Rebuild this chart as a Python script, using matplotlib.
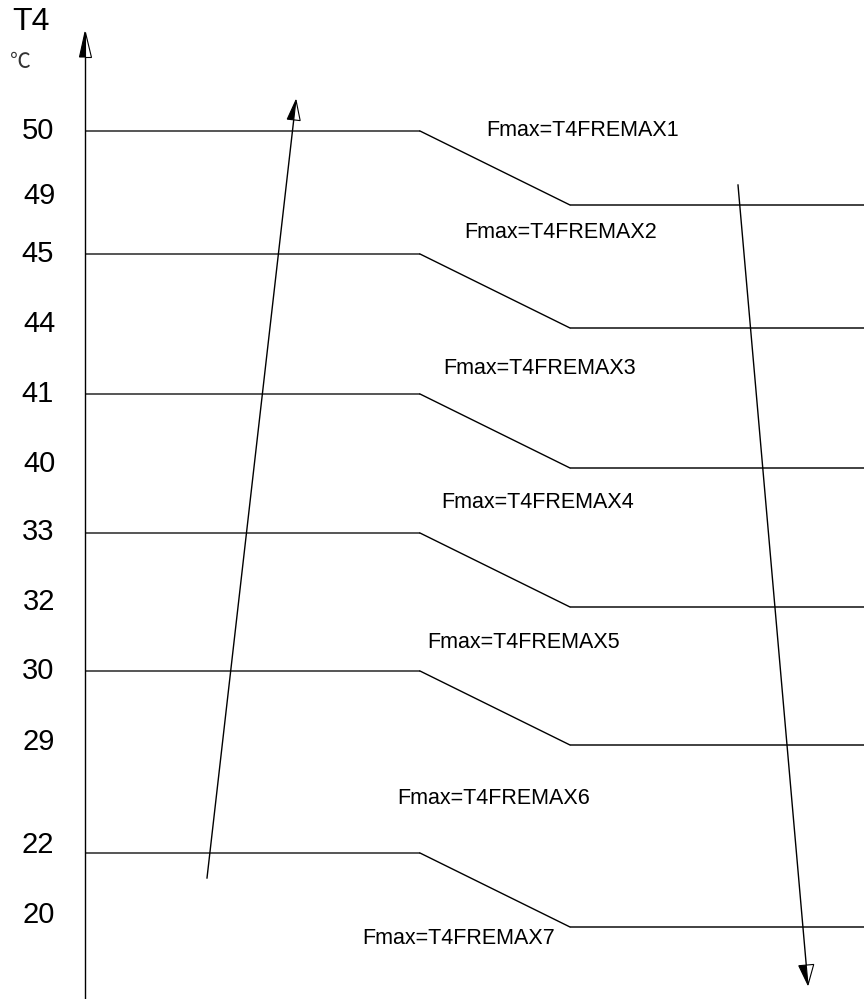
import matplotlib
matplotlib.use("Agg")
import matplotlib.pyplot as plt
from matplotlib.patches import Polygon
import numpy as np

# ---- data (schematic levels) ----
upper_temps = ["50", "45", "41", "33", "30", "22"]
lower_temps = ["49", "44", "40", "32", "29", "20"]
upper_level = [131, 254, 394, 533, 671, 853]     # schematic vertical position of upper step
lower_level = [205, 328, 468, 607, 745, 927]     # schematic vertical position of lower step
upper_label_pos = [131, 254, 394, 532, 671, 845]
lower_label_pos = [196, 324, 464, 602, 742, 915]
fmax_labels = ["Fmax=T4FREMAX1", "Fmax=T4FREMAX2", "Fmax=T4FREMAX3",
               "Fmax=T4FREMAX4", "Fmax=T4FREMAX5", "Fmax=T4FREMAX6",
               "Fmax=T4FREMAX7"]
fmax_x = [583, 561, 540, 538, 524, 494, 459]
fmax_y = [131, 232, 368, 503, 643, 798, 938]

plt.rcParams['font.family'] = ['Liberation Sans', 'DejaVu Sans']

fig = plt.figure(figsize=(8.64, 9.99), dpi=100)
ax = fig.add_axes([0, 0, 1, 1])
ax.set_xlim(0, 864)
ax.set_ylim(999, 0)
ax.axis('off')

AX_X = 85
X_BEND1, X_BEND2, X_END = 420, 570, 864


def half_arrow(tip, start, length, width):
    tip = np.array(tip, float)
    start = np.array(start, float)
    d = tip - start
    d /= np.hypot(*d)
    n = np.array([-d[1], d[0]])  # perpendicular
    base = tip - d * length
    p1 = base + n * width / 2
    p2 = base - n * width / 2
    if p1[0] > p2[0]:
        p1, p2 = p2, p1
    ax.add_patch(Polygon([tip, p1, base], closed=True, facecolor='black',
                         edgecolor='black', lw=0.8, zorder=5))
    ax.add_patch(Polygon([tip, base, p2], closed=True, facecolor='white',
                         edgecolor='black', lw=0.8, zorder=5))
    ax.plot([start[0], base[0]], [start[1], base[1]], color='black', lw=1.0, zorder=4)


# vertical axis
half_arrow((AX_X, 32), (AX_X, 998), 25, 11)

# step lines
for yu, yl in zip(upper_level, lower_level):
    ax.plot([AX_X, X_BEND1], [yu, yu], color='#555555', lw=1.4, solid_capstyle='butt')
    ax.plot([X_BEND1, X_BEND2], [yu, yl], color='black', lw=1.0)
    ax.plot([X_BEND2, X_END], [yl, yl], color='#333333', lw=1.3, solid_capstyle='butt')

# temperature labels
for t, y in zip(upper_temps, upper_label_pos):
    ax.text(38, y, t, ha='center', va='center', fontsize=21)
for t, y in zip(lower_temps, lower_label_pos):
    ax.text(39, y, t, ha='center', va='center', fontsize=21)

# Fmax labels
for s, x, y in zip(fmax_labels, fmax_x, fmax_y):
    ax.text(x, y, s, ha='center', va='center', fontsize=15.5)

# axis title
ax.text(31, 22, "T4", ha='center', va='center', fontsize=23)
ax.text(20, 62, "℃", ha='center', va='center', fontsize=15,
        family=['Noto Sans CJK SC', 'DejaVu Sans'], color='#333333')

# trend arrows
half_arrow((296, 100), (207, 878), 20, 13)
half_arrow((808, 985), (738, 185), 20, 15)

fig.savefig("out.png", dpi=100, facecolor='white')
